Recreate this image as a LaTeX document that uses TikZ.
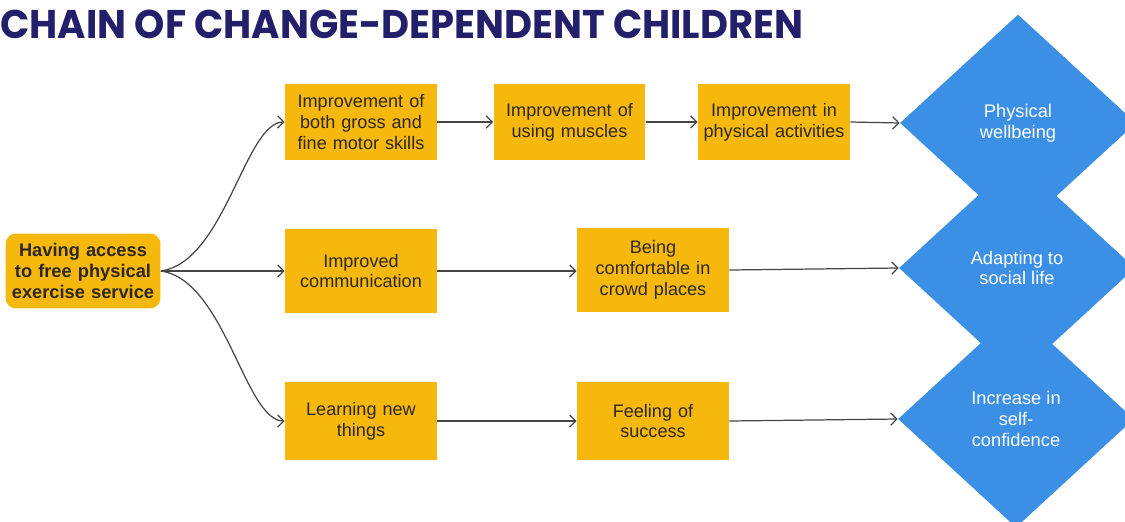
\documentclass[tikz,border=0pt]{standalone}
\usepackage{fontspec}
\usepackage{graphicx}
\setmainfont{Liberation Sans}
\newfontfamily\titlefont{Poppins}
\usetikzlibrary{arrows.meta,shapes.geometric}
\definecolor{boxyellow}{RGB}{246,184,12}
\definecolor{diablue}{RGB}{59,143,228}
\definecolor{titlenavy}{RGB}{35,31,106}
\definecolor{txtdark}{RGB}{45,40,35}
\definecolor{linegray}{RGB}{70,70,70}
\tikzset{
  stepbox/.style={fill=boxyellow, draw=none, minimum width=3.04cm, text width=2.9cm,
    align=center, inner sep=0pt, text=txtdark,
    font=\fontsize{10.3}{11.9}\selectfont},
  startbox/.style={fill=boxyellow, draw=none, rounded corners=6pt, minimum width=3.1cm,
    minimum height=1.5cm, text width=3cm, align=center, inner sep=0pt, text=txtdark,
    font=\bfseries\fontsize{10.4}{11.8}\selectfont},
  outcome/.style={diamond, fill=diablue, draw=none, minimum width=4.72cm,
    minimum height=4.34cm, inner sep=0pt, text=white, align=center,
    font=\fontsize{10.4}{11.8}\selectfont},
  link/.style={draw=linegray, line width=0.7pt, -{Straight Barb[length=3.5pt,width=7pt]}},
}
\begin{document}
\begin{tikzpicture}[x=0.02cm, y=-0.02cm]
\useasboundingbox (0,0) rectangle (1125,521);
% title
\node[anchor=south west, inner sep=0pt, text=titlenavy] (title) at (0,39)
  {\resizebox{16.06cm}{0.57cm}{\titlefont\bfseries CHAIN OF CHANGE-DEPENDENT CHILDREN}};
% diamonds
\node[outcome] (d1) at (1018,123) {Physical\\wellbeing};
\node[outcome] (d2) at (1017,268) {Adapting to\\social life};
\node[outcome] (d3) at (1016,419) {Increase in\\self-\\confidence};
% start
\node[startbox] (start) at (83,271) {Having access\\to free physical\\exercise service};
% row 1
\node[stepbox, minimum height=1.54cm] (a1) at (361,122) {Improvement of\\both gross and\\fine motor skills};
\node[stepbox, minimum height=1.54cm] (a2) at (569.5,122) {Improvement of\\using muscles};
\node[stepbox, minimum height=1.54cm] (a3) at (774,122) {Improvement in\\physical activities};
% row 2
\node[stepbox, minimum height=1.7cm] (b1) at (361,271) {Improved\\communication};
\node[stepbox, minimum height=1.7cm] (b2) at (653,270) {Being\\comfortable in\\crowd places};
% row 3
\node[stepbox, minimum height=1.56cm] (c1) at (361,421) {Learning new\\things};
\node[stepbox, minimum height=1.56cm] (c2) at (653,421) {Feeling of\\success};
% connectors
\coordinate (s) at (start.east);
\draw[link] (s) .. controls (225,262) and (245,122) .. (a1.west);
\draw[link] (s) -- (b1.west);
\draw[link] (s) .. controls (225,280) and (245,421) .. (c1.west);
\draw[link] (a1) -- (a2);
\draw[link] (a2) -- (a3);
\draw[link] (a3.east) -- (d1.west);
\draw[link] (b1.east) -- (b2.west |- b1.east);
\draw[link] (b2.east) -- (d2.west);
\draw[link] (c1) -- (c2);
\draw[link] (c2.east) -- (d3.west);
\end{tikzpicture}
\end{document}
